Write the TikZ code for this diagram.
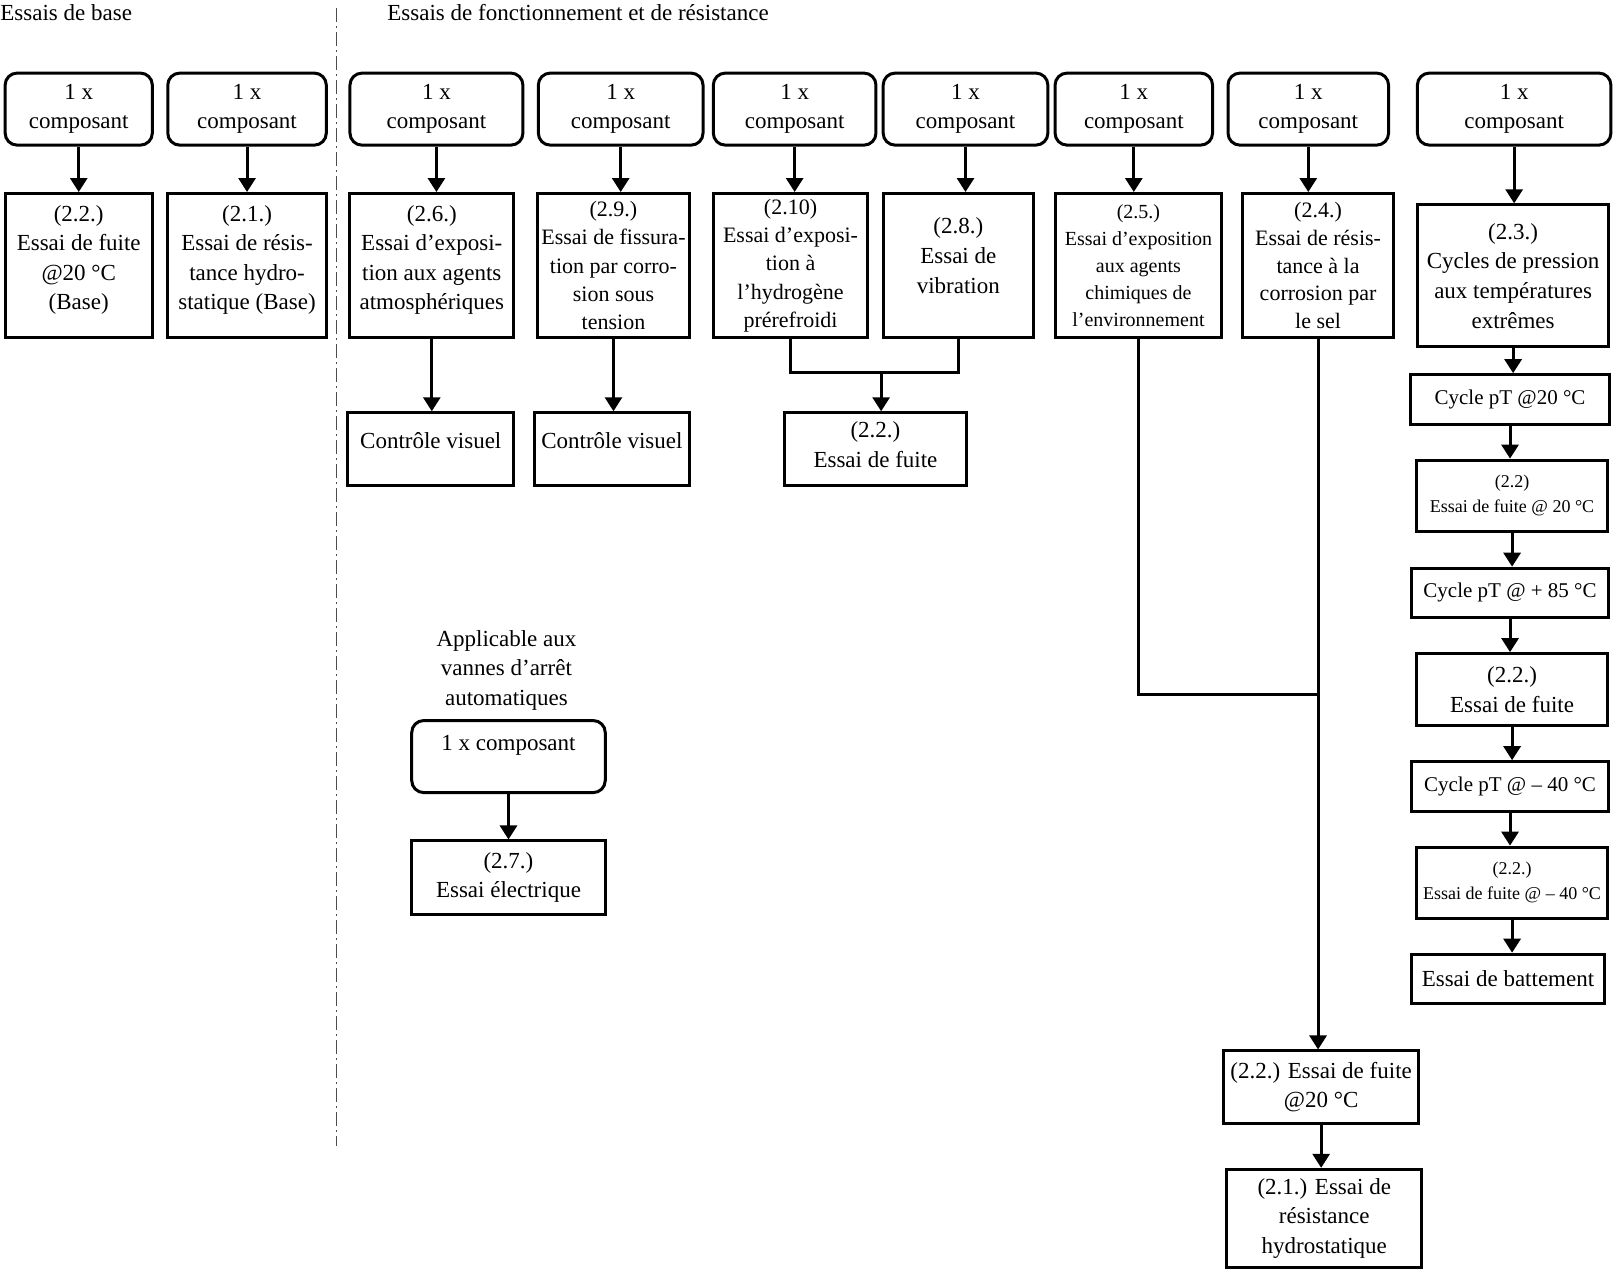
\documentclass[tikz,border=0pt]{standalone}
\usepackage{fontspec}
\setmainfont{Liberation Serif}
\usetikzlibrary{arrows.meta, positioning, calc}

\begin{document}
\begin{tikzpicture}[x=0.5147pt, y=-0.5147pt,
    font=\fontsize{11.5}{14.8}\selectfont,
    cadre/.style={draw, line width=1.5pt, align=center, inner sep=1pt},
    comp/.style={cadre, rounded corners=6pt, font=\fontsize{11.5}{14.4}\selectfont},
    sz/.style 2 args={minimum width=#1*0.5147pt, minimum height=#2*0.5147pt},
    fleche/.style={line width=1.5pt, -{Triangle[width=8.5pt,length=7pt]}},
    trait/.style={line width=1.5pt},
    moyen/.style={font=\fontsize{11}{14.1}\selectfont},
    petit/.style={font=\fontsize{9}{12.5}\selectfont},
    cyclept/.style={font=\fontsize{10.5}{12}\selectfont}]
                \useasboundingbox (0,0) rectangle (1568,1234);

                % Titres des deux groupes
                \node[anchor=west, inner sep=0] (titreA) at (0,12) {Essais de base};
                \node[anchor=west, inner sep=0] (titreB) at (376,12) {Essais de fonctionnement et de résistance};
                \draw[black!70, line width=0.7pt, dash pattern=on 7pt off 2pt on 1pt off 2pt] (327,8) -- (327,1113);

                % Ligne des composants
                \node[comp, sz={143}{70}] (c1) at (76.5,106) {1 x\\composant};
                \node[comp, sz={154}{70}] (c2) at (240,106) {1 x\\composant};
                \node[comp, sz={168}{70}] (c3) at (424,106) {1 x\\composant};
                \node[comp, sz={160}{70}] (c4) at (603,106) {1 x\\composant};
                \node[comp, sz={158}{70}] (c5) at (772,106) {1 x\\composant};
                \node[comp, sz={160}{70}] (c6) at (938,106) {1 x\\composant};
                \node[comp, sz={153}{70}] (c7) at (1101.5,106) {1 x\\composant};
                \node[comp, sz={156}{70}] (c8) at (1271,106) {1 x\\composant};
                \node[comp, sz={188}{70}] (c9) at (1471,106) {1 x\\composant};

                % Essais
                \node[cadre, text depth=8pt, sz={143}{140}] (t1) at (76.5,258) {(2.2.)\\Essai de fuite\\@20 °C\\(Base)};
                \node[cadre, text depth=8pt, sz={154}{140}] (t2) at (240,258) {(2.1.)\\Essai de résis-\\tance hydro-\\statique (Base)};
                \node[cadre, text depth=8pt, sz={159}{140}] (t3) at (419.5,258) {(2.6.)\\Essai d’exposi-\\tion aux agents\\atmosphériques};
                \node[cadre, moyen, sz={148}{140}] (t4) at (596,258) {(2.9.)\\Essai de fissura-\\tion par corro-\\sion sous\\tension};
                \node[cadre, moyen, sz={150}{140}] (t5) at (768,258) {(2.10)\\Essai d’exposi-\\tion à\\l’hydrogène\\prérefroidi};
                \node[cadre, text depth=10pt, sz={146}{140}] (t6) at (931,258) {(2.8.)\\Essai de\\vibration};
                \node[cadre, font=\fontsize{10}{13.4}\selectfont, sz={162}{140}] (t7) at (1106,258) {(2.5.)\\Essai d’exposition\\aux agents\\chimiques de\\l’environnement};
                \node[cadre, font=\fontsize{11}{13.9}\selectfont, sz={147}{140}] (t8) at (1280.5,258) {(2.4.)\\Essai de résis-\\tance à la\\corrosion par\\le sel};
                \node[cadre, sz={186}{138}] (t9) at (1470,268) {(2.3.)\\Cycles de pression\\aux températures\\extrêmes};

                \foreach \i in {1,...,9}
                    \draw[fleche] (c\i.south) -- (c\i.south |- t\i.north);

                % Suite des essais 2.6, 2.9, 2.10 et 2.8
                \node[cadre, text depth=9pt, sz={161}{71}] (v1) at (418.5,436.5) {Contrôle visuel};
                \node[cadre, text depth=9pt, sz={151}{71}] (v2) at (594.5,436.5) {Contrôle visuel};
                \node[cadre, text depth=5pt, sz={177}{71}] (f1) at (850.5,436.5) {(2.2.)\\Essai de fuite};
                \draw[fleche] (t3.south) -- (t3.south |- v1.north);
                \draw[fleche] (t4.south) -- (t4.south |- v2.north);
                \coordinate (jA) at (856,362);
                \draw[trait] (t5.south) |- (jA) -| (t6.south);
                \draw[fleche] (jA) -- (jA |- f1.north);

                % Vannes d'arret automatiques
                \node[align=center] (note) at (492,651) {Applicable aux\\vannes d’arrêt\\automatiques};
                \node[comp, text depth=13.5pt, sz={188}{70}] (r10) at (494,735) {1 x composant};
                \node[cadre, sz={188}{71}] (e1) at (494,852.5) {(2.7.)\\Essai électrique};
                \draw[fleche] (r10.south) -- (r10.south |- e1.north);

                % Suite des essais 2.5 et 2.4
                \node[cadre, sz={189}{70}] (f2) at (1283.5,1056) {(2.2.) Essai de fuite\\@20 °C};
                \node[cadre, sz={189}{95}] (h1) at (1286.5,1183.5) {(2.1.) Essai de\\résistance\\hydrostatique};
                \coordinate (niv) at (0,675);
                \draw[trait] (t7.south) |- (t8.south |- niv);
                \draw[fleche] (t8.south) -- (t8.south |- f2.north);
                \draw[fleche] (f2.south) -- (f2.south |- h1.north);

                % Cycles de pression
                \node[cadre, cyclept, sz={193}{48}] (p1) at (1467,388) {Cycle pT @20 °C};
                \node[cadre, petit, sz={186}{69}] (k1) at (1469,481.5) {(2.2)\\Essai de fuite @ 20 °C};
                \node[cadre, cyclept, sz={192}{48}] (p2) at (1467,576) {Cycle pT @ + 85 °C};
                \node[cadre, sz={186}{70}] (k2) at (1469,670) {(2.2.)\\Essai de fuite};
                \node[cadre, cyclept, sz={192}{48}] (p3) at (1467,764) {Cycle pT @ – 40 °C};
                \node[cadre, petit, sz={186}{69}] (k3) at (1469,857.5) {(2.2.)\\Essai de fuite @ – 40 °C};
                \node[cadre, sz={187}{48}] (b1) at (1465,951) {Essai de battement};
                \draw[fleche] (t9.south) -- (t9.south |- p1.north);
                \draw[fleche] (p1.south) -- (p1.south |- k1.north);
                \draw[fleche] (k1.south) -- (k1.south |- p2.north);
                \draw[fleche] (p2.south) -- (p2.south |- k2.north);
                \draw[fleche] (k2.south) -- (k2.south |- p3.north);
                \draw[fleche] (p3.south) -- (p3.south |- k3.north);
                \draw[fleche] (k3.south) -- (k3.south |- b1.north);
            \end{tikzpicture}
\end{document}
